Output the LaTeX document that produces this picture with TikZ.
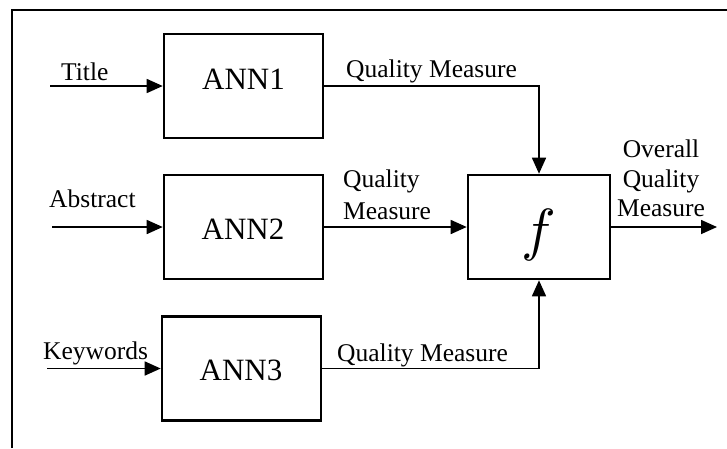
\documentclass[tikz,border=0pt]{standalone}
\usepackage{fontspec}
\setmainfont{Liberation Serif}
\usetikzlibrary{arrows.meta}
\begin{document}
\begin{tikzpicture}[x=1pt,y=-1pt,
  blockbox/.style={draw,line width=2.6pt,minimum width=159pt,minimum height=104pt,inner sep=0pt},
  fnbox/.style={draw,line width=2.6pt,minimum width=142pt,minimum height=104pt,inner sep=0pt},
  bigtext/.style={inner sep=0pt,font=\fontsize{31}{36}\selectfont},
  lbl/.style={inner sep=0pt,font=\fontsize{25.5}{30}\selectfont},
  conn/.style={line width=1.6pt,-{Triangle[length=16pt,width=14pt]}},
  plain/.style={line width=1.6pt}]
\useasboundingbox (0,0) rectangle (727,448);
\fill[white] (0,0) rectangle (727,448);
\draw[line width=2.8pt] (12,448) -- (12,10) -- (727,10);

% boxes
\node[blockbox] (ann1) at (243.5,86) {};
\node[blockbox] (ann2) at (243.5,227) {};
\node[blockbox] (ann3) at (241.5,368.5) {};
\node[fnbox] (fbox) at (539,227) {};

\node[bigtext,anchor=base] (ann1t) at (243.5,89) {ANN1};
\node[bigtext,anchor=base] (ann2t) at (243,239) {ANN2};
\node[bigtext,anchor=base] (ann3t) at (241,380) {ANN3};
\node[inner sep=0pt,anchor=base,scale=5.8] (ft) at (539,249) {$f$};

% inputs
\coordinate (in1) at (50,86);
\coordinate (in2) at (52,227);
\coordinate (in3) at (47,368.5);
\draw[conn] (in1) -- (ann1.west);
\draw[conn] (in2) -- (ann2.west);
\draw[conn] (in3) -- (ann3.west);

\node[lbl,anchor=base west] (ttl) at (61,80) {Title};
\node[lbl,anchor=base west] (abs) at (49,207) {Abstract};
\node[lbl,anchor=base west] (kw) at (43,359) {Keywords};

% outputs to f
\draw[conn] (ann1.east) -| (fbox.north);
\draw[conn] (ann2.east) -- (fbox.west);
\draw[conn] (ann3.east) -| (fbox.south);

\node[lbl,anchor=base west] (q1) at (346,77) {Quality Measure};
\node[lbl,anchor=base west] (q2a) at (343,187) {Quality};
\node[lbl,anchor=base west] (q2b) at (343,219) {Measure};
\node[lbl,anchor=base west] (q3) at (337,361) {Quality Measure};

% overall output
\coordinate (out) at (717,227);
\draw[conn] (fbox.east) -- (out);
\node[lbl,anchor=base] (o1) at (661,157) {Overall};
\node[lbl,anchor=base] (o2) at (661,187) {Quality};
\node[lbl,anchor=base] (o3) at (661,216) {Measure};
\end{tikzpicture}
\end{document}
